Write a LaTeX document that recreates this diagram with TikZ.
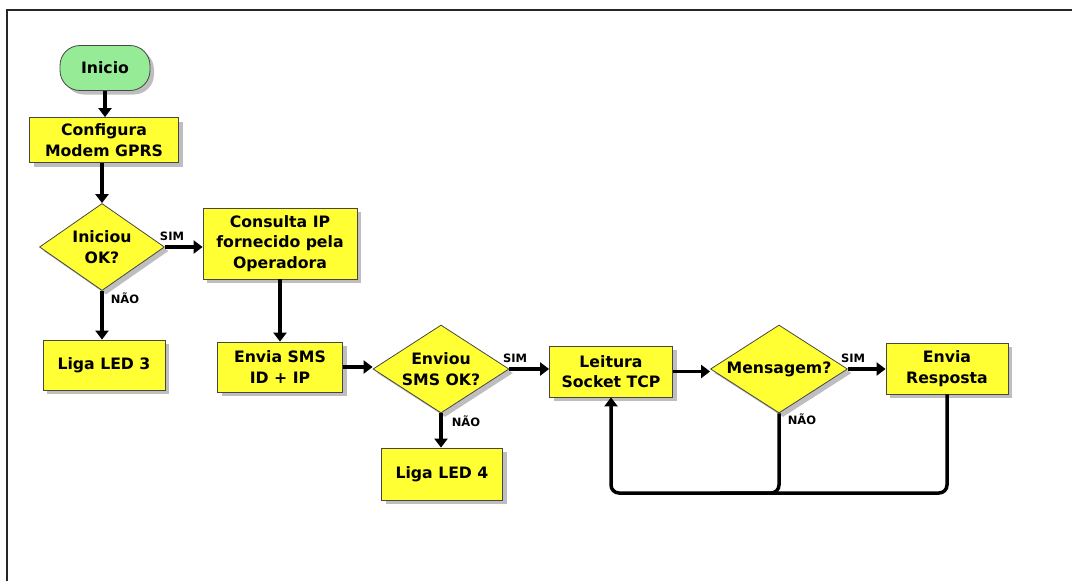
\documentclass[tikz,border=0pt]{standalone}
\usepackage{fontspec}
\setmainfont{DejaVu Sans}
\usetikzlibrary{shapes.geometric,arrows.meta,shadows}
\definecolor{boxyellow}{RGB}{255,255,51}
\definecolor{startgreen}{RGB}{150,236,150}
\definecolor{edgegray}{RGB}{70,70,70}
\definecolor{shadowgray}{RGB}{190,190,190}
\begin{document}
\begin{tikzpicture}[x=1pt,y=-1pt,
  base/.style={draw=edgegray,line width=0.8pt,font=\fontsize{15.7}{20.5}\selectfont\bfseries,
    align=center,inner sep=0pt,
    drop shadow={shadow xshift=4pt,shadow yshift=-4pt,fill=shadowgray,opacity=1}},
  procbox/.style={base,rectangle,fill=boxyellow},
  decision/.style={base,diamond,aspect=1.55,fill=boxyellow},
  terminal/.style={base,rectangle,rounded corners=20pt,fill=startgreen},
  tip/.style={-{Triangle[length=9pt,width=13pt]}},
  flow/.style={line width=3.5pt,tip},
  loopline/.style={line width=3.5pt,rounded corners=8pt},
  answer/.style={font=\fontsize{11.5}{13}\selectfont\bfseries,inner sep=0pt}
]
\useasboundingbox (0,0) rectangle (1072,581);
% frame
\draw[line width=1.2pt,color=black!85] (1072,10) -- (7,10) -- (7,581);

% nodes
\node[terminal,minimum width=90pt,minimum height=45pt] (ini) at (105,68) {Inicio};
\node[procbox,minimum width=149pt,minimum height=45pt] (cfg) at (104,140) {Configura\\Modem GPRS};
\node[decision,minimum width=125pt,minimum height=87pt] (okq) at (102,247) {Iniciou\\OK?};
\node[procbox,minimum width=154pt,minimum height=71pt] (ip) at (280,243.5) {Consulta IP\\fornecido pela\\Operadora};
\node[procbox,minimum width=122pt,minimum height=50pt] (led3) at (104,365) {Liga LED 3};
\node[procbox,minimum width=125pt,minimum height=50pt] (sms) at (280,367) {Envia SMS\\ID + IP};
\node[decision,minimum width=136pt,minimum height=88pt] (smsq) at (441,369) {Enviou\\SMS OK?};
\node[procbox,minimum width=121pt,minimum height=52pt] (led4) at (442,474) {Liga LED 4};
\node[procbox,minimum width=123pt,minimum height=51pt] (tcp) at (611,371.5) {Leitura\\Socket TCP};
\node[decision,minimum width=137pt,minimum height=88pt] (msg) at (779,369) {Mensagem?};
\node[procbox,minimum width=122pt,minimum height=51pt] (resp) at (947,368.5) {Envia\\Resposta};

% loop coordinates
\coordinate (loopL) at (611,493);
\coordinate (loopM) at (779,493);
\coordinate (loopJ) at (720,493);
\coordinate (loopR) at (947,493);

% connectors
\draw[flow] (ini.south) -- (ini.south |- cfg.north);
\draw[flow] (cfg.south -| okq.north) -- (okq.north);
\draw[flow] (okq.east) -- (ip.west |- okq.east);
\draw[flow] (okq.south) -- (okq.south |- led3.north);
\draw[flow] (ip.south) -- (sms.north);
\draw[flow] (sms.east) -- (smsq.west |- sms.east);
\draw[flow] (smsq.east) -- (tcp.west |- smsq.east);
\draw[flow] (smsq.south) -- (smsq.south |- led4.north);
\draw[flow] (tcp.east) -- (msg.west |- tcp.east);
\draw[flow] (msg.east) -- (resp.west |- msg.east);
\draw[loopline] (resp.south) -- (loopR) -- (loopJ);
\draw[loopline,tip] (msg.south) -- (loopM) -- (loopL) -- (tcp.south);

% branch labels
\node[answer] (l1) at (172,236) {SIM};
\node[answer] (l2) at (125,298) {NÃO};
\node[answer] (l3) at (515,358) {SIM};
\node[answer] (l4) at (466,421) {NÃO};
\node[answer] (l5) at (853,358) {SIM};
\node[answer] (l6) at (802,419) {NÃO};
\end{tikzpicture}
\end{document}
